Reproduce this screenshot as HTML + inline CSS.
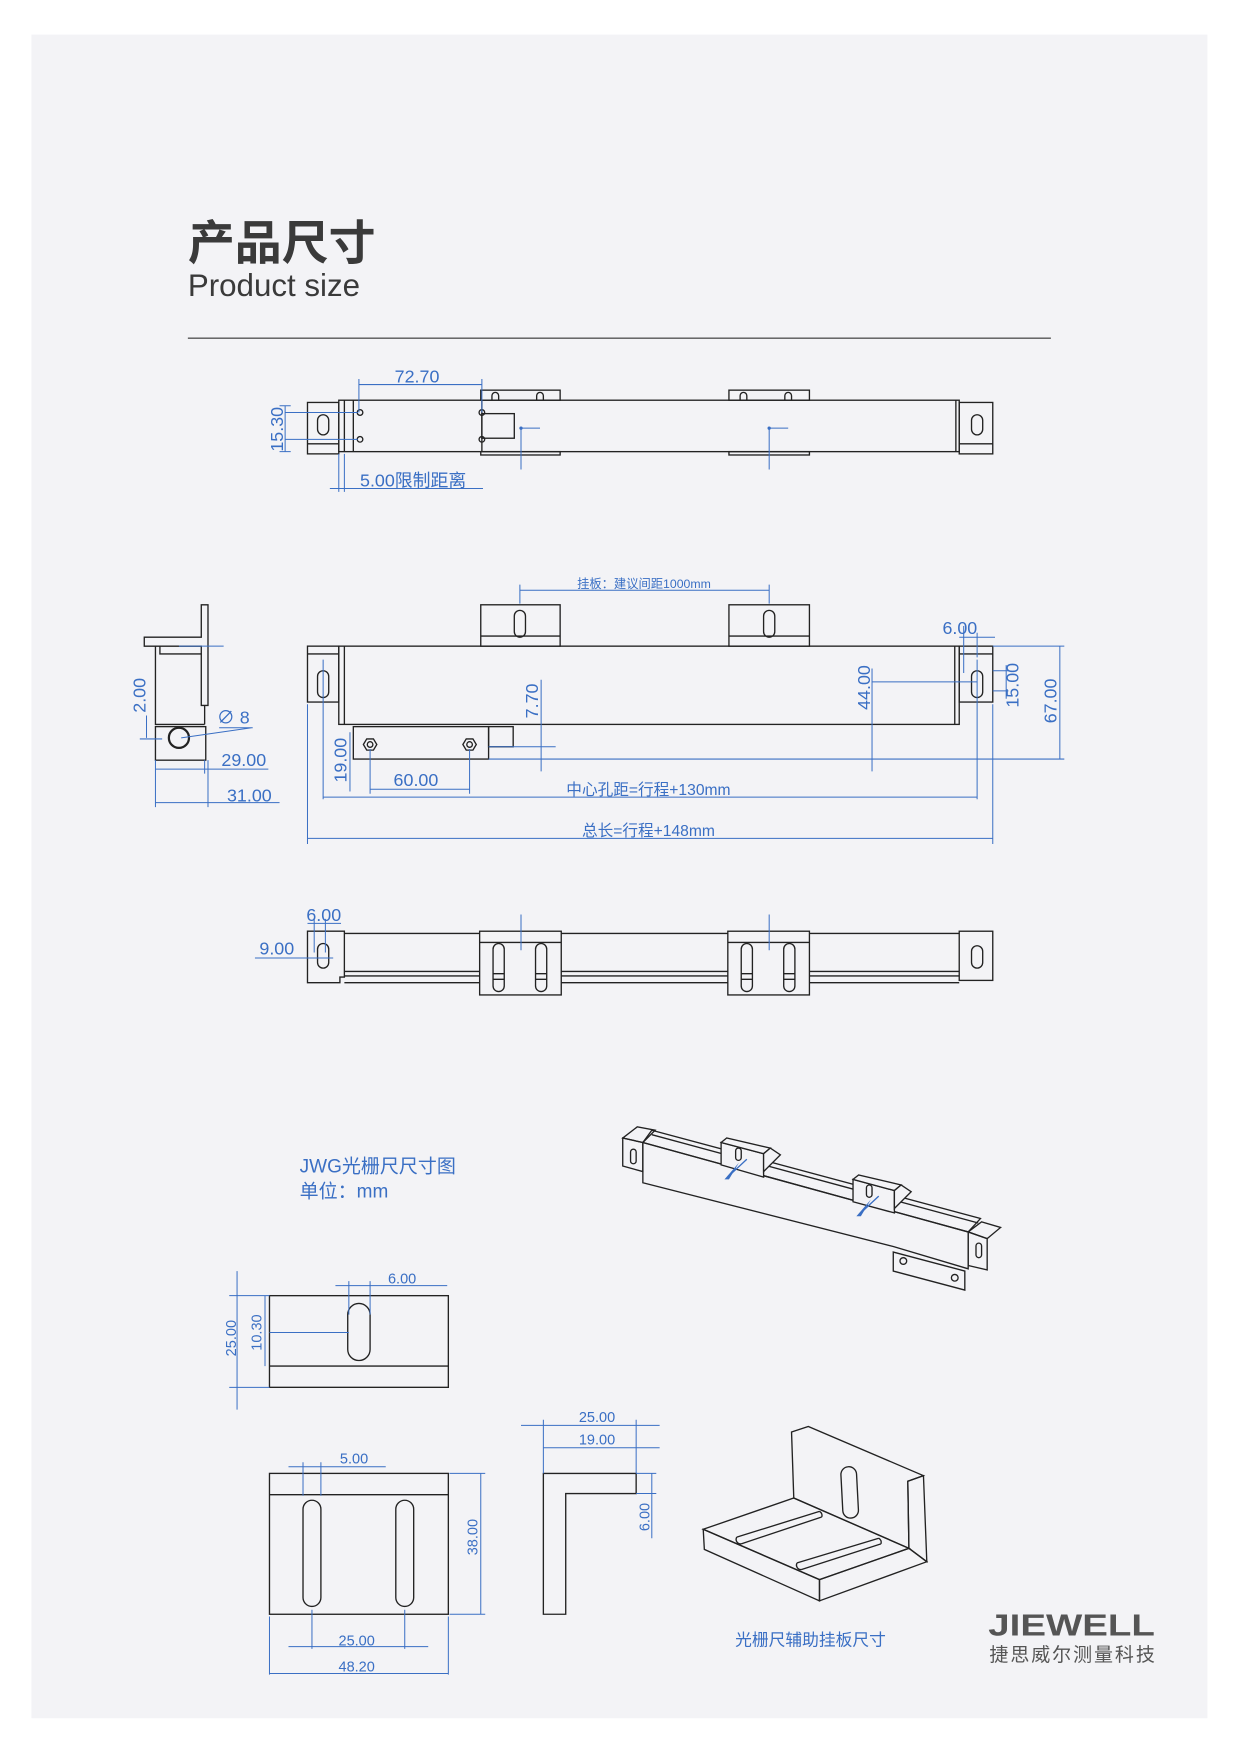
<!DOCTYPE html>
<html><head><meta charset="utf-8"><style>
html,body{margin:0;padding:0;background:#fff;}
svg{display:block;}
</style></head><body>
<svg width="1241" height="1754" viewBox="0 0 1110 1569" xmlns="http://www.w3.org/2000/svg" font-family="'Liberation Sans','Noto Sans CJK SC',sans-serif">
<rect x="0" y="0" width="1110" height="1569" fill="#ffffff"/>
<rect x="28" y="31" width="1052" height="1506" fill="#f3f3f6"/>
<text x="168" y="232" font-size="42" font-weight="bold" fill="#3a3a3a" font-family="'Noto Sans CJK SC',sans-serif">产品尺寸</text>
<text x="168" y="265" font-size="28" fill="#3a3a3a">Product size</text>
<line x1="168" y1="302.5" x2="940" y2="302.5" stroke="#555" stroke-width="1.3"/>

<g fill="none" stroke="#222" stroke-width="1.2">
<rect x="430" y="349" width="71" height="9"/><rect x="652" y="349" width="72" height="9"/>
<path d="M440 358v-4a3 3 0 0 1 6 0v4M480 358v-4a3 3 0 0 1 6 0v4M662 358v-4a3 3 0 0 1 6 0v4M702 358v-4a3 3 0 0 1 6 0v4"/>
<rect x="430" y="404" width="71" height="3"/><rect x="652" y="404" width="72" height="3"/>
<rect x="275" y="360" width="28" height="46"/><line x1="275" y1="397" x2="303" y2="397"/>
<rect x="284" y="371" width="10" height="18" rx="5"/>
<rect x="303" y="358" width="555" height="46"/>
<line x1="308" y1="358" x2="308" y2="404"/><line x1="316" y1="358" x2="316" y2="404"/><line x1="431" y1="358" x2="431" y2="404"/>
<rect x="431" y="370" width="29" height="22"/>
<circle cx="322" cy="369" r="2.5"/><circle cx="322" cy="393" r="2.5"/><circle cx="431" cy="369" r="2.5"/><circle cx="431" cy="393" r="2.5"/>
<rect x="858" y="360" width="30" height="46"/><line x1="858" y1="397" x2="888" y2="397"/><line x1="855" y1="358" x2="855" y2="404"/>
<rect x="869" y="371" width="10" height="18" rx="5"/>

<path d="M180 541h6v90h-6v-53h-51v-8h51z"/>
<path d="M139 578v70h44M143 578v7h37"/>
<line x1="183" y1="631" x2="183" y2="648"/>
<rect x="139" y="650" width="45" height="30"/>
<circle cx="160" cy="660" r="9" stroke-width="2"/>

<rect x="430" y="541" width="71" height="37"/><line x1="430" y1="569" x2="501" y2="569"/>
<rect x="652" y="541" width="72" height="37"/><line x1="652" y1="569" x2="724" y2="569"/>
<rect x="460" y="546" width="10" height="24" rx="5"/><rect x="683" y="546" width="10" height="24" rx="5"/>
<rect x="275" y="578" width="28" height="50"/><line x1="275" y1="585" x2="303" y2="585"/>
<rect x="284" y="600" width="10" height="24" rx="5"/>
<rect x="303" y="578" width="555" height="70"/><line x1="308" y1="578" x2="308" y2="648"/>
<rect x="858" y="578" width="30" height="50"/><line x1="858" y1="585" x2="888" y2="585"/><line x1="854" y1="578" x2="854" y2="648"/>
<rect x="869" y="600" width="10" height="24" rx="5"/>
<rect x="316" y="650" width="121" height="29"/><rect x="437" y="650" width="22" height="18"/>
<polygon points="325,666 328,661 334,661 337,666 334,671 328,671"/><circle cx="331" cy="666" r="2.5"/>
<polygon points="414,666 417,661 423,661 426,666 423,671 417,671"/><circle cx="420" cy="666" r="2.5"/>

<path d="M275 833h33v41h-4v5h-29z"/>
<rect x="284" y="844" width="10" height="22" rx="5"/>
<path d="M308 835h550M308 869h550M308 873h550M308 879h550"/>
<rect x="429" y="833" width="73" height="57" fill="#f3f3f6"/><line x1="429" y1="843" x2="502" y2="843"/>
<rect x="441" y="844" width="10" height="43" rx="5"/><rect x="479" y="844" width="10" height="43" rx="5"/>
<rect x="651" y="833" width="73" height="57" fill="#f3f3f6"/><line x1="651" y1="843" x2="724" y2="843"/>
<rect x="663" y="844" width="10" height="43" rx="5"/><rect x="701" y="844" width="10" height="43" rx="5"/>
<path d="M441 871h10M441 876h10M479 871h10M479 876h10M663 871h10M663 876h10M701 871h10M701 876h10"/>
<rect x="858" y="833" width="30" height="44"/><rect x="869" y="846" width="10" height="20" rx="5"/>

<polygon points="575,1022 866,1102 866,1135 799,1115 575,1058" fill="#f3f3f6"/>
<polygon points="575,1022 583,1011 877,1090 866,1102"/>
<line x1="583" y1="1015" x2="875" y2="1094"/>
<polygon points="557,1018 575,1022 575,1048 557,1043"/>
<polygon points="557,1018 570,1008 586,1011 575,1022"/>
<rect x="564" y="1028" width="5" height="13" rx="2.5"/>
<polygon points="866,1102 883,1108 883,1136 866,1132"/>
<polygon points="866,1102 878,1093 895,1098 883,1108"/>
<rect x="873" y="1112" width="5" height="13" rx="2.5"/>
<polygon points="799,1120 863,1137 863,1154 799,1137" fill="#f3f3f6"/>
<circle cx="808" cy="1128" r="3"/><circle cx="854" cy="1143" r="3"/>
<polygon points="645,1022 683,1032 683,1053 645,1042" fill="#f3f3f6"/>
<polygon points="645,1022 650,1018 689,1027 683,1032" fill="#f3f3f6"/>
<polygon points="683,1032 689,1027 698,1033 683,1048" fill="#f3f3f6"/>
<polygon points="763,1055 800,1065 800,1085 763,1075" fill="#f3f3f6"/>
<polygon points="763,1055 768,1051 806,1060 800,1065" fill="#f3f3f6"/>
<polygon points="800,1065 806,1060 815,1066 800,1081" fill="#f3f3f6"/>
<rect x="658" y="1027" width="5" height="11" rx="2.5"/><rect x="775" y="1060" width="5" height="11" rx="2.5"/>

<rect x="241" y="1159" width="160" height="82"/><line x1="241" y1="1222" x2="401" y2="1222"/>
<rect x="311" y="1166" width="20" height="51" rx="10"/>
<rect x="241" y="1318" width="160" height="126"/><line x1="241" y1="1337" x2="401" y2="1337"/>
<rect x="271" y="1342" width="16" height="95" rx="8"/><rect x="354" y="1342" width="16" height="95" rx="8"/>
<polygon points="486,1318 569,1318 569,1336 506,1336 506,1444 486,1444"/>
<polygon points="629,1368 710,1340 813,1385 733,1413"/>
<polygon points="629,1368 733,1413 733,1432 630,1386"/>
<polygon points="733,1413 813,1385 829,1397 733,1432"/>
<polygon points="708,1281 723,1276 826,1320 812,1325 813,1385 710,1340"/>
<polygon points="812,1325 826,1320 829,1397 813,1385"/>
<rect x="753" y="1312" width="14" height="46" rx="7" transform="rotate(-3 760 1335)"/>
<path d="M659 1375 L733 1352 M663 1381 L735 1357 M659 1375 a4 4 0 0 0 4 6 M733 1352 a4 4 0 0 1 2 5"/>
<path d="M713 1398 L786 1376 M717 1404 L788 1381 M713 1398 a4 4 0 0 0 4 6 M786 1376 a4 4 0 0 1 2 5"/>
</g>

<g stroke="#3a6fc4" stroke-width="0.9" fill="none">
<path d="M321 344h110M321 339v30M431 339v30"/>
<path d="M255 363v41M255 369h65M255 393h65M250 363h10M250 404h10"/>
<path d="M295 437h137M303 406v34M308 406v34"/>
<path d="M466 383v37M466 383h17M688 383v37M688 383h17"/>
<path d="M465 528h223M465 523v17M688 523v17"/>
<path d="M160 578h40M131 640v20M125 661h20"/>
<path d="M139 680v42M186 680v42M183 680v12M139 688h44M139 718h47M183 688h57M186 718h64"/>
<path d="M162 660L225 651M196 651h30"/>
<path d="M289 590v125M874 590v125M289 713h585M275 630v125M888 630v125M275 750h613"/>
<path d="M331 670v40M420 670v40M331 706h89"/>
<path d="M313 655v53"/>
<path d="M484 608v82M437 668h60M437 679h515"/>
<path d="M780 598v92M780 610h94"/>
<path d="M858 570h32M862 560v42M874 566v22M888 600h14M888 618h14M900 595v30"/>
<path d="M888 578h64M948 578v101"/>
<path d="M466 818v32M688 818v32M275 826h30M281 822v30M291 822v30M228 857h70"/>
<path d="M300 1150h100M312 1146v30M331 1146v30M212 1137v124M205 1159h36M205 1241h36M237 1159v63M241 1192h71"/>
<path d="M258 1312h87M271 1308v30M287 1308v30M430 1318v126M402 1318h32M402 1444h32"/>
<path d="M258 1473h125M279 1440v35M362 1440v35M241 1497h160M241 1446v52M401 1446v52"/>
<path d="M466 1275h124M486 1270v48M569 1270v48M486 1295h104M583 1318v58M569 1318h18M569 1336h18"/>
</g>
<g fill="#3a6fc4">
<circle cx="466" cy="383" r="1.5"/><circle cx="688" cy="383" r="1.5"/>
<polygon points="661,1040 648,1055 652,1055"/><polygon points="779,1073 766,1088 770,1088"/>
<path d="M668 1037l-14 13M786 1070l-14 13" stroke="#3a6fc4" stroke-width="1.2"/>
</g>
<g fill="#3a6fc4" font-size="16">
<text x="353" y="342">72.70</text>
<text x="255" y="384" text-anchor="middle" transform="rotate(-90 255 384)" dy="-2">15.30</text>
<text x="322" y="435">5.00限制距离</text>
<text x="576" y="526" font-size="11" text-anchor="middle">挂板：建议间距1000mm</text>
<text x="130" y="622" text-anchor="middle" transform="rotate(-90 130 622)">2.00</text>
<text x="194" y="647">∅ 8</text>
<text x="198" y="685">29.00</text>
<text x="203" y="717">31.00</text>
<text x="310" y="680" text-anchor="middle" transform="rotate(-90 310 680)">19.00</text>
<text x="352" y="703">60.00</text>
<text x="481" y="627" text-anchor="middle" transform="rotate(-90 481 627)">7.70</text>
<text x="778" y="615" text-anchor="middle" transform="rotate(-90 778 615)">44.00</text>
<text x="843" y="567">6.00</text>
<text x="911" y="613" text-anchor="middle" transform="rotate(-90 911 613)">15.00</text>
<text x="945" y="627" text-anchor="middle" transform="rotate(-90 945 627)">67.00</text>
<text x="580" y="711" font-size="14" text-anchor="middle">中心孔距=行程+130mm</text>
<text x="580" y="748" font-size="14" text-anchor="middle">总长=行程+148mm</text>
<text x="274" y="824">6.00</text>
<text x="232" y="854">9.00</text>
<text x="268" y="1049" font-size="17">JWG光栅尺尺寸图</text>
<text x="268" y="1071" font-size="17">单位：mm</text>
<text x="347" y="1148" font-size="13">6.00</text>
<text x="211" y="1197" font-size="13" text-anchor="middle" transform="rotate(-90 211 1197)">25.00</text>
<text x="234" y="1192" font-size="13" text-anchor="middle" transform="rotate(-90 234 1192)">10.30</text>
<text x="304" y="1309" font-size="13">5.00</text>
<text x="427" y="1375" font-size="13" text-anchor="middle" transform="rotate(-90 427 1375)">38.00</text>
<text x="319" y="1472" font-size="13" text-anchor="middle">25.00</text>
<text x="319" y="1495" font-size="13" text-anchor="middle">48.20</text>
<text x="534" y="1272" font-size="13" text-anchor="middle">25.00</text>
<text x="534" y="1292" font-size="13" text-anchor="middle">19.00</text>
<text x="581" y="1357" font-size="13" text-anchor="middle" transform="rotate(-90 581 1357)">6.00</text>
<text x="725" y="1472" font-size="15" text-anchor="middle">光栅尺辅助挂板尺寸</text>
</g>
<text x="884" y="1463" font-size="27" font-weight="bold" fill="#555" textLength="149" lengthAdjust="spacingAndGlyphs">JIEWELL</text>
<text x="885" y="1486" font-size="17" fill="#555" textLength="148" font-family="'Noto Sans CJK SC',sans-serif">捷思威尔测量科技</text>
</svg>
</body></html>
